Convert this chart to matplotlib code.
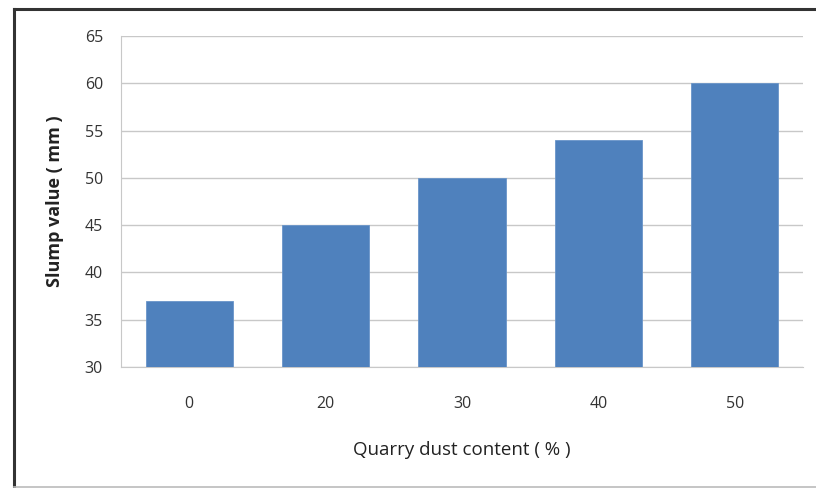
import matplotlib.pyplot as plt
from matplotlib.lines import Line2D

dust_content = ["0", "20", "30", "40", "50"]
slump_mm = [37, 45, 50, 54, 60]
y_ticks = [30, 35, 40, 45, 50, 55, 60, 65]

plt.rcParams["font.family"] = ["Open Sans", "DejaVu Sans"]

fig = plt.figure(figsize=(8.16, 4.88), dpi=100)
ax = fig.add_axes([121 / 816, 1 - 367 / 488, (803 - 121) / 816, (367 - 36) / 488])

ax.bar(dust_content, slump_mm, width=0.64, color="#4F81BD", zorder=3,
       edgecolor="#6A95C9", linewidth=0.6)
ax.set_ylim(30, 65)
ax.set_xlim(-0.5, 4.5)
ax.set_yticks(y_ticks)
ax.grid(axis="y", color="#C8C8C8", linewidth=1.0, zorder=0)

for side in ["top", "right"]:
    ax.spines[side].set_visible(False)
ax.spines["left"].set_color("#C8C8C8")
ax.spines["bottom"].set_color("#C8C8C8")
ax.tick_params(axis="both", length=0, labelsize=11.5, colors="#333333")
ax.tick_params(axis="x", pad=21)
ax.tick_params(axis="y", pad=13)

ax.set_xlabel("Quarry dust content ( % )", fontsize=13.5, color="#222222", va="center")
ax.xaxis.set_label_coords(0.5, -0.251)
ax.set_ylabel("Slump value ( mm )", fontsize=13, fontweight="bold", color="#222222",
              va="center")
ax.yaxis.set_label_coords(-0.097, 0.5)

# outer frame of the chart area
fig.add_artist(Line2D([14 / 816, 14 / 816], [0, 1 - 9 / 488], color="#333333", linewidth=2.2))
fig.add_artist(Line2D([14 / 816, 1], [1 - 9 / 488, 1 - 9 / 488], color="#333333", linewidth=2.2))
fig.add_artist(Line2D([14 / 816, 1], [1.5 / 488, 1.5 / 488], color="#BBBBBB", linewidth=1.2))

fig.savefig("out.png", dpi=100)
